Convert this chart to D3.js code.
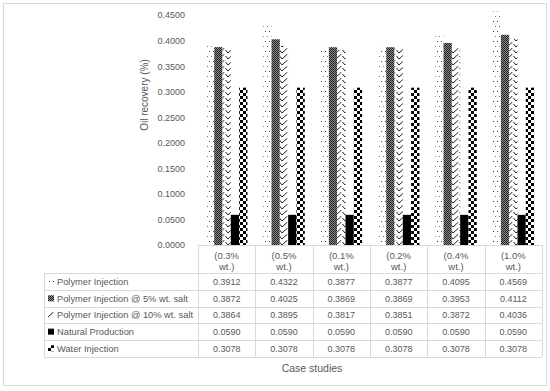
<!DOCTYPE html>
<html><head><meta charset="utf-8">
<script src="https://cdn.jsdelivr.net/npm/d3@7"></script>
<style>
body{margin:0;background:#fff;}
text{font-family:"Liberation Sans",Arial,sans-serif;fill:#595959;}
</style></head>
<body><svg id="c" width="550" height="391"></svg>
<script>
const categories = ["(0.3% wt.)","(0.5% wt.)","(0.1% wt.)","(0.2% wt.)","(0.4% wt.)","(1.0% wt.)"];
const seriesNames = ["Polymer Injection","Polymer Injection @ 5% wt. salt","Polymer Injection @ 10% wt. salt","Natural Production","Water Injection"];
const polymer = [0.3912,0.4322,0.3877,0.3877,0.4095,0.4569];
const salt5   = [0.3872,0.4025,0.3869,0.3869,0.3953,0.4112];
const salt10  = [0.3864,0.3895,0.3817,0.3851,0.3872,0.4036];
const natural = [0.0590,0.0590,0.0590,0.0590,0.0590,0.0590];
const water   = [0.3078,0.3078,0.3078,0.3078,0.3078,0.3078];
const yTicks = [0,0.05,0.10,0.15,0.20,0.25,0.30,0.35,0.40,0.45];
const seriesValues = [polymer,salt5,salt10,natural,water];

const svg = d3.select("#c");
const defs = svg.append("defs");
// patterns
const p1 = defs.append("pattern").attr("id","pat0").attr("patternUnits","userSpaceOnUse").attr("width",4).attr("height",10);
p1.append("rect").attr("width",4).attr("height",10).attr("fill","#fff");
p1.append("rect").attr("x",1).attr("y",1).attr("width",1).attr("height",1).attr("fill","#444");
p1.append("rect").attr("x",3).attr("y",6).attr("width",1).attr("height",1).attr("fill","#777");
const p2 = defs.append("pattern").attr("id","pat1").attr("patternUnits","userSpaceOnUse").attr("width",2).attr("height",2);
p2.append("rect").attr("width",2).attr("height",2).attr("fill","#8a8a8a");
p2.append("rect").attr("x",0).attr("y",0).attr("width",1).attr("height",1).attr("fill","#222");
p2.append("rect").attr("x",1).attr("y",1).attr("width",1).attr("height",1).attr("fill","#222");
const p3 = defs.append("pattern").attr("id","pat2").attr("patternUnits","userSpaceOnUse").attr("width",9).attr("height",6);
p3.append("rect").attr("width",9).attr("height",6).attr("fill","#fff");
p3.append("path").attr("d","M0.5,2 L3,5 L8.5,0").attr("fill","none").attr("stroke","#222").attr("stroke-width",1);
const p4 = defs.append("pattern").attr("id","pat3").attr("patternUnits","userSpaceOnUse").attr("width",4).attr("height",4);
p4.append("rect").attr("width",4).attr("height",4).attr("fill","#000");
const p5 = defs.append("pattern").attr("id","pat4").attr("patternUnits","userSpaceOnUse").attr("width",6).attr("height",6);
p5.append("rect").attr("width",6).attr("height",6).attr("fill","#fff");
p5.append("rect").attr("x",0).attr("y",0).attr("width",3).attr("height",3).attr("fill","#000");
p5.append("rect").attr("x",3).attr("y",3).attr("width",3).attr("height",3).attr("fill","#000");
const fills = ["url(#pat0)","url(#pat1)","url(#pat2)","url(#pat3)","url(#pat4)"];

// chart border
svg.append("rect").attr("x",3.5).attr("y",3.5).attr("width",543).attr("height",382)
  .attr("fill","#fff").attr("stroke","#d9d9d9");

const plotL = 198, plotR = 542, y0 = 245, yTop = 15;
const y = d3.scaleLinear().domain([0,0.45]).range([y0,yTop]);
const x0 = d3.scaleBand().domain(categories).range([plotL,plotR]).paddingInner(0).paddingOuter(0);
const x1 = d3.scaleBand().domain(d3.range(seriesNames.length)).range([0,x0.bandwidth()]).paddingInner(0).paddingOuter(0.95);

// y axis
const yAxis = d3.axisLeft(y).tickValues(yTicks).tickFormat(d3.format(".4f")).tickSize(0).tickPadding(0);
const ya = svg.append("g").attr("transform","translate(185,0)").call(yAxis);
ya.select(".domain").remove();
ya.selectAll("text").attr("font-size","9px").style("font-family",null).attr("fill","#595959").attr("dy","0.32em");

// bars
const g = svg.append("g");
categories.forEach((c,ci)=>{
  seriesValues.forEach((vals,si)=>{
    g.append("rect")
      .attr("x",x0(c)+x1(si))
      .attr("y",y(vals[ci]))
      .attr("width",x1.bandwidth())
      .attr("height",y0-y(vals[ci]))
      .attr("fill",fills[si]);
  });
});

// data table
const rowH = 16.67, headerBottom = 273.3;
const lineC = "#d9d9d9";
const tbl = svg.append("g");
tbl.append("line").attr("x1",plotL).attr("x2",plotR).attr("y1",y0+0.5).attr("y2",y0+0.5).attr("stroke",lineC);
const colEdges = categories.map(c=>x0(c)).concat([plotR]);
colEdges.forEach(xv=>{
  tbl.append("line").attr("x1",Math.round(xv)+0.5).attr("x2",Math.round(xv)+0.5)
    .attr("y1",y0).attr("y2",headerBottom+rowH*5).attr("stroke",lineC);
});
tbl.append("line").attr("x1",44.5).attr("x2",44.5).attr("y1",headerBottom).attr("y2",headerBottom+rowH*5).attr("stroke",lineC);
for(let r=0;r<=5;r++){
  const yy = Math.round(headerBottom+rowH*r)+0.5;
  tbl.append("line").attr("x1",44).attr("x2",plotR).attr("y1",yy).attr("y2",yy).attr("stroke",lineC);
}
categories.forEach(c=>{
  const parts = c.split(" ");
  const cx = x0(c)+x0.bandwidth()/2;
  tbl.append("text").attr("x",cx).attr("y",258.5).attr("text-anchor","middle").attr("font-size","9.5px").text(parts[0]);
  tbl.append("text").attr("x",cx).attr("y",269.5).attr("text-anchor","middle").attr("font-size","9.5px").text(parts[1]);
});
const fmt = d3.format(".4f");
seriesNames.forEach((name,si)=>{
  const cy = headerBottom + rowH*si + rowH/2;
  tbl.append("rect").attr("x",48).attr("y",cy-3).attr("width",6).attr("height",6).attr("fill",fills[si]);
  tbl.append("text").attr("x",57).attr("y",cy+3.5).attr("font-size","9.3px").text(name);
  categories.forEach((c,ci)=>{
    tbl.append("text").attr("x",x0(c)+x0.bandwidth()/2).attr("y",cy+3.5).attr("text-anchor","middle")
      .attr("font-size","9px").text(fmt(seriesValues[si][ci]));
  });
});

// axis titles
svg.append("text").attr("transform","translate(148,95) rotate(-90)").attr("text-anchor","middle")
  .attr("font-size","10px").text("Oil recovery (%)");
svg.append("text").attr("x",312).attr("y",372).attr("text-anchor","middle").attr("font-size","10.5px").text("Case studies");
</script></body></html>
